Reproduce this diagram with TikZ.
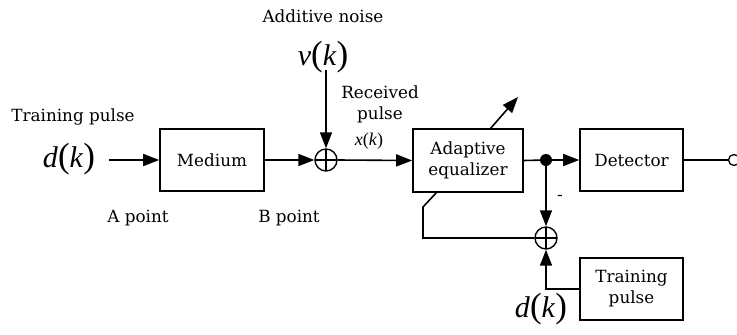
\documentclass[tikz,border=0pt]{standalone}
\usepackage{fontspec}
\setmainfont{DejaVu Serif}
\newfontfamily\tmsf{Liberation Serif}
\usetikzlibrary{arrows.meta}
\newcommand{\bigfn}[1]{{\tmsf\fontsize{30}{32}\selectfont\itshape #1\/}{\tmsf\fontsize{35}{36}\selectfont(}{\tmsf\fontsize{30}{32}\selectfont\itshape k\/}{\tmsf\fontsize{35}{36}\selectfont)}}
\begin{document}
\begin{tikzpicture}[x=1pt,y=-1pt,
  every node/.style={font=\fontsize{16.8}{19}\selectfont},
  blk/.style={draw,line width=1.6pt,minimum width=#1,inner sep=0pt},
  sumnode/.style={draw,circle,line width=1.4pt,minimum size=22pt,inner sep=0pt,
    path picture={\draw[line width=1.2pt] (path picture bounding box.north) -- (path picture bounding box.south)
      (path picture bounding box.west) -- (path picture bounding box.east);}},
  wire/.style={line width=1.6pt},
  arr/.style={wire,-{Triangle[length=16pt,width=12pt]}},
]
\useasboundingbox (0,0) rectangle (737,335);
% blocks
\node[blk=104pt,minimum height=62pt] (med) at (212,160) {Medium};
\node[blk=110pt,minimum height=63pt,align=center,font=\fontsize{16.8}{21}\selectfont] (eq) at (468,160.5) {Adaptive\\equalizer};
\node[blk=103pt,minimum height=62pt] (det) at (631.5,160) {Detector};
\node[blk=103pt,minimum height=62pt,align=center,font=\fontsize{16.8}{21}\selectfont] (tp) at (631.5,289) {Training\\pulse};
\node[sumnode] (s1) at (326,160) {};
\node[sumnode] (s2) at (546,238) {};
\node[circle,fill,inner sep=0pt,minimum size=12pt] (dot) at (546,160) {};
\node[draw,circle,line width=1.3pt,inner sep=0pt,minimum size=11pt] (out) at (734,160) {};
% texts
\node (tptxt) at (73,117) {Training pulse};
\node (din) at (69,159) {\bigfn{d}};
\node (an) at (323,16) {Additive noise};
\node (vk) at (323,57) {\bigfn{v}};
\node[align=center,font=\fontsize{16.8}{21}\selectfont] (rp) at (380,104) {Received\\pulse};
\node[font=\tmsf\fontsize{18}{20}\selectfont] (xk) at (369,141) {\textit{x}(\textit{k})};
\node (ap) at (138,218) {A point};
\node (bp) at (289,218) {B point};
\node (minus) at (560,198) {-};
\node (dbot) at (541,309) {\bigfn{d}};
\coordinate (tin) at (109,160);
\coordinate (vtop) at (326,70);
\coordinate (aeS) at (490,129);
\coordinate (aeE) at (518,97);
\coordinate (fb1) at (423,238);
\coordinate (fb2) at (423,207);
\coordinate (fb3) at (437,192);
\coordinate (tpc) at (546,289);
% connectors
\draw[arr] (tin) -- (med.west);
\draw[arr] (med.east) -- (s1.west);
\draw[arr] (vtop) -- (s1.north);
\draw[arr] (s1.east) -- (eq.west);
\draw[wire] (eq.east) -- (dot);
\draw[arr] (dot) -- (det.west);
\draw[wire] (det.east) -- (out.west);
\draw[arr] (dot) -- (s2.north);
\draw[arr] (tp.west) -- (tpc) -- (s2.south);
\draw[wire] (s2.west) -- (fb1) -- (fb2) -- (fb3);
\draw[arr] (aeS) -- (aeE);
\end{tikzpicture}
\end{document}
